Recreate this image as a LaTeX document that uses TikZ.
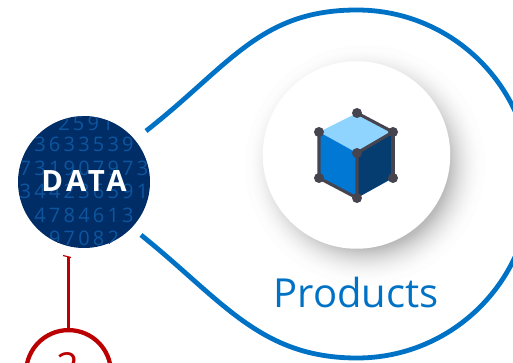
\documentclass[tikz,border=0pt]{standalone}
\usepackage{fontspec}
\setmainfont{Open Sans}
\usetikzlibrary{positioning}
\definecolor{lineblue}{HTML}{0072C6}
\definecolor{datablue}{HTML}{002D66}
\definecolor{digitblue}{HTML}{0E559F}
\definecolor{linered}{HTML}{BA0000}
\definecolor{cubegrey}{HTML}{45444F}
\definecolor{cubelight}{HTML}{8FD3FF}
\definecolor{cubemid}{HTML}{0078D4}
\definecolor{cubedark}{HTML}{053D70}
\tikzset{
    %Define style for circles
    datacirc/.style={
           circle,
           fill=datablue,
           minimum size=99pt,
           inner sep=0pt},
    prodcirc/.style={
           circle,
           fill=white,
           minimum size=140.6pt,
           inner sep=0pt},
    numcirc/.style={
           circle,
           draw=linered,
           line width=3.2pt,
           fill=white,
           minimum size=63.6pt,
           inner sep=0pt},
    digits/.style={
           text=digitblue,
           font=\fontsize{15}{15}\selectfont\addfontfeature{LetterSpace=16}},
    cubedot/.style={
           circle,
           fill=cubegrey,
           minimum size=7.5pt,
           inner sep=0pt},
    % Define line styles
    blobline/.style={
           draw=lineblue,
           line width=3.6pt},
    cubeline/.style={
           draw=cubegrey,
           line width=2.3pt},
    redline/.style={
           draw=linered,
           line width=2pt}
}

\begin{document}
\begin{tikzpicture}[x=0.75pt, y=-0.75pt]
    \useasboundingbox (0,0) rectangle (513,363);
    \clip (0,0) rectangle (513,363);

    % SHADOW
    \foreach \i in {0,...,36} {
        \pgfmathsetmacro{\r}{120-38*sqrt(\i/36)}
        \fill[black, opacity=0.009] (365,165) circle [radius=\r];
    }

    % PRODUCT
    \node[prodcirc] at (356.5,155) (product) {};
    \node[text=lineblue, font=\fontsize{30}{30}\selectfont] at (356,292) (products) {Products};

    % OUTLINE
    \coordinate (blobtop) at (146,131);
    \coordinate (blobbot) at (141,235);
    \draw[blobline] (blobtop)
        .. controls (230,65) and (260,10) .. (357,10)
        .. controls (453,10) and (531,88) .. (531,184)
        .. controls (531,280) and (453,358) .. (357,358)
        .. controls (260,358) and (222,300) .. (blobbot);

    % CUBE
    \coordinate (ctop) at (357,113);
    \coordinate (cleft) at (319,132);
    \coordinate (cright) at (393,132);
    \coordinate (cmid) at (357,153);
    \coordinate (cbl) at (319,178);
    \coordinate (cbr) at (393,178);
    \coordinate (cbot) at (357,198);
    \fill[cubelight] (ctop) -- (cright) -- (cmid) -- (cleft) -- cycle;
    \fill[cubemid] (cleft) -- (cmid) -- (cbot) -- (cbl) -- cycle;
    \fill[cubedark] (cmid) -- (cright) -- (cbr) -- (cbot) -- cycle;
    \draw[cubeline] (ctop) -- (cright) -- (cmid) -- (cbot) -- (cbl) -- (cleft);
    \draw[cubeline] (cright) -- (cbr);
    \foreach \p in {ctop,cleft,cright,cmid,cbl,cbr,cbot}
        \node[cubedot] at (\p) {};

    % DATA
    \node[datacirc] at (84,182) (data) {};
    \begin{scope}
        \clip (84,182) circle [radius=66];
        \node[digits] at (86,123) (row1) {2591};
        \node[digits] at (84,144) (row2) {3633539};
        \node[digits] at (84,168) (row3) {731907973};
        \node[digits] at (84,191) (row4) {344236591};
        \node[digits] at (84,215) (row5) {4784613};
        \node[digits] at (84,238) (row6) {97082};
    \end{scope}
    \node[text=white, font=\fontsize{22}{22}\selectfont\bfseries\addfontfeature{LetterSpace=12}] at (84,181) (datalabel) {DATA};

    % STEP NUMBER
    \node[numcirc] at (68.5,372.5) (num) {};
    \node[text=linered, font=\fontsize{30}{30}\selectfont, anchor=north] at (67.5,348) (numlabel) {2};
    \coordinate (stub) at (68.5,257);
    \draw[redline] (stub) -- (num.north);
    \draw[redline, line width=0.9pt] (63,255.5) -- (71,257.5);
\end{tikzpicture}
\end{document}
